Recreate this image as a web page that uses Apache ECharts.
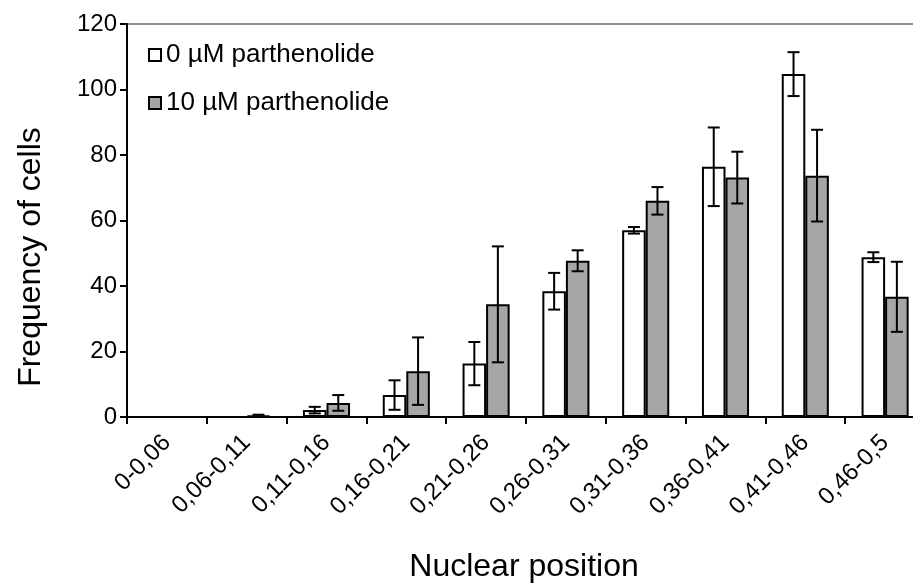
<!DOCTYPE html>
<html>
<head>
<meta charset="utf-8">
<script src="https://cdn.jsdelivr.net/npm/echarts@6/dist/echarts.min.js"></script>
<style>
  html, body { margin: 0; padding: 0; background: #fff; overflow: hidden; }
  #chart { width: 913px; height: 588px; }
</style>
</head>
<body>
<div id="chart"></div>
<script>
// Nuclear position bins
const categories = ['0-0,06', '0,06-0,11', '0,11-0,16', '0,16-0,21', '0,21-0,26',
                    '0,26-0,31', '0,31-0,36', '0,36-0,41', '0,41-0,46', '0,46-0,5'];
// Frequency of cells, untreated
const controlValues = [0, 0, 2.1, 6.7, 16.3, 38.4, 57.0, 76.4, 104.7, 48.8];
const controlErrors = [0, 0, 1.0, 4.5, 6.6, 5.6, 1.0, 12.0, 6.7, 1.5];
// Frequency of cells, 10 µM parthenolide
const treatedValues = [0, 0.4, 4.3, 14.0, 34.4, 47.7, 66.0, 73.1, 73.7, 36.7];
const treatedErrors = [0, 0.3, 2.4, 10.3, 17.7, 3.2, 4.2, 7.9, 14.0, 10.7];
const yTicks = [0, 20, 40, 60, 80, 100, 120];

const seriesNames = ['0 µM parthenolide', '10 µM parthenolide'];
const BAR_FRAC = 0.295;
const FONT = 'Liberation Sans, Arial, sans-serif';

function errorSeries(values, errors, side) {
  return {
    type: 'custom',
    z: 10,
    silent: true,
    data: values.map((v, i) => [i, v, errors[i]]),
    renderItem: function (params, api) {
      const err = api.value(2);
      if (!err) return null;
      const idx = api.value(0);
      const v = api.value(1);
      const band = api.size([1, 0])[0];
      const x = api.coord([idx, v])[0] + side * band * BAR_FRAC / 2;
      const yTop = api.coord([idx, v + err])[1];
      const yBot = api.coord([idx, Math.max(0, v - err)])[1];
      const cap = 6;
      const style = { stroke: '#000', lineWidth: 2, fill: null };
      return {
        type: 'group',
        children: [
          { type: 'line', shape: { x1: x, y1: yTop, x2: x, y2: yBot }, style: style },
          { type: 'line', shape: { x1: x - cap, y1: yTop, x2: x + cap, y2: yTop }, style: style },
          { type: 'line', shape: { x1: x - cap, y1: yBot, x2: x + cap, y2: yBot }, style: style }
        ]
      };
    }
  };
}

const chart = echarts.init(document.getElementById('chart'), null, { renderer: 'canvas' });
chart.setOption({
  animation: false,
  backgroundColor: '#fff',
  textStyle: { fontFamily: FONT, color: '#000' },
  grid: { left: 127, top: 24, height: 393, width: 798, containLabel: false, outerBoundsMode: 'none' },
  legend: {
    orient: 'vertical',
    left: 143,
    top: 37,
    itemWidth: 12,
    itemHeight: 12,
    itemGap: 22,
    icon: 'rect',
    textStyle: { fontFamily: FONT, fontSize: 26, color: '#000' },
    data: seriesNames
  },
  xAxis: {
    type: 'category',
    data: categories,
    axisLine: { lineStyle: { color: '#000', width: 2 } },
    axisTick: { show: true, alignWithLabel: false, length: 7, lineStyle: { color: '#000', width: 2 } },
    axisLabel: { rotate: 45, margin: 22, fontSize: 24, color: '#000', fontFamily: FONT, interval: 0 },
    splitLine: { show: false }
  },
  yAxis: {
    type: 'value',
    min: 0,
    max: 120,
    interval: 20,
    axisLine: { show: true, lineStyle: { color: '#000', width: 2 } },
    axisTick: { show: true, length: 7, lineStyle: { color: '#000', width: 2 } },
    axisLabel: { fontSize: 24, color: '#000', fontFamily: FONT, margin: 10 },
    splitLine: {
      show: true,
      lineStyle: { color: yTicks.map(t => t === 120 ? '#8c8c8c' : 'rgba(0,0,0,0)'), width: 2 }
    }
  },
  graphic: [
    {
      type: 'text',
      x: 31, y: 257,
      rotation: Math.PI / 2,
      style: { text: 'Frequency of cells', font: '32px ' + FONT, fill: '#000', align: 'center', verticalAlign: 'middle' }
    },
    {
      type: 'text',
      x: 524, y: 567,
      style: { text: 'Nuclear position', font: '32px ' + FONT, fill: '#000', align: 'center', verticalAlign: 'middle' }
    }
  ],
  series: [
    {
      name: seriesNames[0],
      type: 'bar',
      data: controlValues,
      barWidth: (BAR_FRAC * 100) + '%',
      barGap: '0%',
      itemStyle: { color: '#ffffff', borderColor: '#000', borderWidth: 2 }
    },
    {
      name: seriesNames[1],
      type: 'bar',
      data: treatedValues,
      barWidth: (BAR_FRAC * 100) + '%',
      barGap: '0%',
      itemStyle: { color: '#a6a6a6', borderColor: '#000', borderWidth: 2 }
    },
    errorSeries(controlValues, controlErrors, -1),
    errorSeries(treatedValues, treatedErrors, 1)
  ]
});
</script>
</body>
</html>
